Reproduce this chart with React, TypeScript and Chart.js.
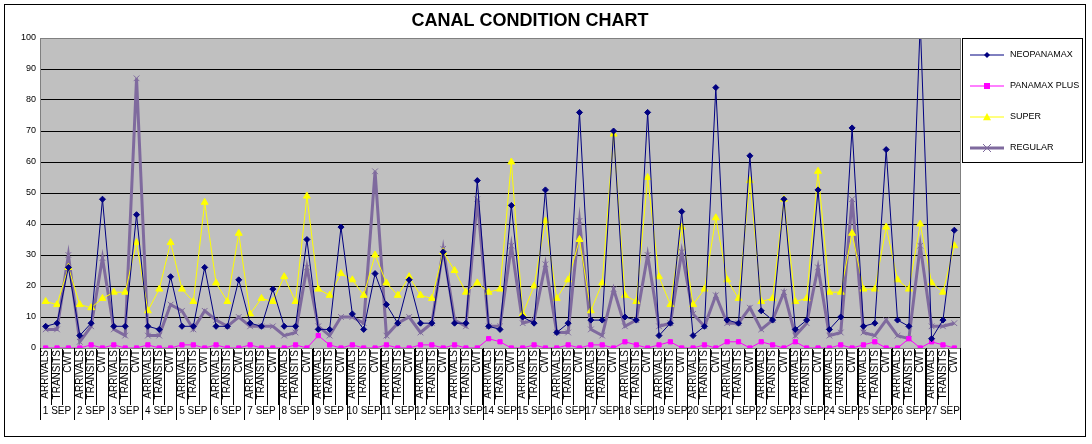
import React, { useEffect, useRef } from "react";
import { Chart, registerables } from "chart.js";
Chart.register(...registerables);

const days = ["1 SEP","2 SEP","3 SEP","4 SEP","5 SEP","6 SEP","7 SEP","8 SEP","9 SEP","10 SEP","11 SEP","12 SEP","13 SEP","14 SEP","15 SEP","16 SEP","17 SEP","18 SEP","19 SEP","20 SEP","21 SEP","22 SEP","23 SEP","24 SEP","25 SEP","26 SEP","27 SEP"];
const kinds = ["ARRIVALS","TRANSITS","CWT"];
const neopanamax = [7,8,26, 4,8,48, 7,7,43, 7,6,23, 7,7,26, 7,7,22, 8,7,19, 7,7,35, 6,6,39, 11,6,24, 14,8,22, 8,8,31, 8,8,54, 7,6,46, 10,8,51, 5,8,76, 9,9,70, 10,9,76, 4,8,44, 4,7,84, 9,8,62, 12,9,48, 6,9,51, 6,10,71, 7,8,64, 9,7,105, 3,9,38];
const panamaxPlus = [0,0,0, 0,1,0, 1,0,0, 1,0,0, 1,1,0, 1,0,0, 1,0,0, 0,1,0, 4,1,0, 1,0,0, 1,0,0, 1,1,0, 1,0,0, 3,2,0, 0,1,0, 0,1,0, 1,1,0, 2,1,0, 1,2,0, 0,1,0, 2,2,0, 2,1,0, 2,0,0, 0,1,0, 1,2,0, 0,3,0, 2,1,0];
const superS = [15,14,26, 14,13,16, 18,18,34, 12,19,34, 19,15,47, 21,15,37, 11,16,15, 23,15,49, 19,17,24, 22,17,30, 21,17,23, 17,16,31, 25,18,21, 18,19,60, 11,20,41, 16,22,35, 12,21,69, 17,15,55, 23,14,39, 14,19,42, 22,16,54, 15,16,48, 15,16,57, 18,18,37, 19,19,39, 22,19,40, 21,18,33];
const regular = [6,6,30, 2,7,29, 6,4,87, 4,4,14, 12,6,12, 9,7,10, 7,7,7, 4,5,26, 7,4,10, 10,8,57, 4,8,10, 5,8,32, 9,7,48, 7,7,33, 8,9,27, 5,5,41, 6,4,19, 7,9,30, 7,8,31, 11,7,17, 8,8,13, 6,9,18, 4,8,26, 4,5,48, 5,4,9, 4,3,33, 7,7,8];

const labels = days.flatMap(() => kinds);

const series = [
  { name: "NEOPANAMAX", data: neopanamax, color: "#000080", width: 1, style: "rectRot", r: 3 },
  { name: "PANAMAX PLUS", data: panamaxPlus, color: "#FF00FF", width: 1, style: "rect", r: 3 },
  { name: "SUPER", data: superS, color: "#FFFF00", width: 1, style: "triangle", r: 4 },
  { name: "REGULAR", data: regular, color: "#7F6A9E", width: 3, style: "crossRot", r: 4 },
];

function marker(ctx: CanvasRenderingContext2D, style: string, r: number, x: number, y: number) {
  ctx.beginPath();
  if (style === "rectRot") {
    ctx.moveTo(x, y - r); ctx.lineTo(x + r, y); ctx.lineTo(x, y + r); ctx.lineTo(x - r, y); ctx.closePath(); ctx.fill();
  } else if (style === "rect") {
    ctx.fillRect(x - r, y - r, 2 * r, 2 * r);
  } else if (style === "triangle") {
    ctx.moveTo(x, y - r); ctx.lineTo(x + r, y + r * 0.8); ctx.lineTo(x - r, y + r * 0.8); ctx.closePath(); ctx.fill();
  } else {
    ctx.lineWidth = 1;
    ctx.moveTo(x - r, y - r); ctx.lineTo(x + r, y + r); ctx.moveTo(x + r, y - r); ctx.lineTo(x - r, y + r); ctx.stroke();
  }
}

export default function App() {
  const ref = useRef<HTMLCanvasElement>(null);
  useEffect(() => {
    const deco = {
      id: "deco",
      beforeDraw(c: any) {
        const { ctx, chartArea: a } = c;
        ctx.save();
        ctx.fillStyle = "#fff";
        ctx.fillRect(0, 0, c.width, c.height);
        ctx.fillStyle = "#C0C0C0";
        ctx.fillRect(a.left, a.top, a.right - a.left, a.bottom - a.top);
        ctx.restore();
      },
      afterDraw(c: any) {
        const { ctx, chartArea: a } = c;
        ctx.save();
        ctx.strokeStyle = "#000";
        ctx.lineWidth = 1;
        ctx.strokeRect(4.5, 4.5, 1081, 432);
        ctx.strokeStyle = "#808080";
        ctx.strokeRect(a.left + 0.5, a.top + 0.5, a.right - a.left, a.bottom - a.top);
        ctx.fillStyle = "#000";
        ctx.font = "bold 18px Arial, 'Liberation Sans'";
        ctx.textAlign = "center";
        ctx.textBaseline = "middle";
        ctx.fillText("CANAL CONDITION CHART", 530, 21);
        const w = (a.right - a.left) / labels.length;
        ctx.font = "10px Arial, 'Liberation Sans'";
        ctx.strokeStyle = "#000";
        for (let d = 0; d < days.length; d++) {
          const x0 = a.left + d * 3 * w;
          ctx.fillText(days[d], x0 + 1.5 * w, 411);
          ctx.beginPath();
          ctx.moveTo(Math.round(x0) + 0.5, a.bottom);
          ctx.lineTo(Math.round(x0) + 0.5, 420);
          ctx.stroke();
        }
        ctx.beginPath();
        ctx.moveTo(Math.round(a.right) + 0.5, a.bottom);
        ctx.lineTo(Math.round(a.right) + 0.5, 420);
        ctx.stroke();
        ctx.strokeRect(962.5, 38.5, 120, 124);
        ctx.textAlign = "left";
        ctx.font = "9px Arial, 'Liberation Sans'";
        series.forEach((s, i) => {
          const y = 55 + i * 31;
          ctx.strokeStyle = s.color;
          ctx.fillStyle = s.color;
          ctx.lineWidth = s.width;
          ctx.beginPath();
          ctx.moveTo(970, y);
          ctx.lineTo(1004, y);
          ctx.stroke();
          marker(ctx, s.style, s.r, 987, y);
          ctx.fillStyle = "#000";
          ctx.fillText(s.name, 1010, y);
        });
        ctx.restore();
      },
    };
    const chart = new Chart(ref.current!, {
      type: "line",
      data: {
        labels,
        datasets: series.map((s) => ({
          label: s.name,
          data: s.data,
          borderColor: s.color,
          backgroundColor: s.color,
          borderWidth: s.width,
          pointStyle: s.style as any,
          pointRadius: s.r,
          pointBorderColor: s.color,
          pointBackgroundColor: s.color,
          pointBorderWidth: 1,
          tension: 0,
        })),
      },
      options: {
        animation: false,
        responsive: false,
        layout: { padding: { top: 38, left: 8, right: 132, bottom: 20 } },
        plugins: { legend: { display: false }, tooltip: { enabled: false } },
        scales: {
          x: {
            offset: true,
            grid: { offset: true, drawOnChartArea: false, tickLength: 57, color: "#000", drawTicks: true },
            border: { color: "#808080" },
            ticks: {
              autoSkip: false, minRotation: 90, maxRotation: 90, color: "#000", padding: -55,
              font: { family: "Arial, 'Liberation Sans'", size: 10 },
            },
            afterFit: (s: any) => { s.height = 76; },
          },
          y: {
            min: 0, max: 100,
            ticks: { stepSize: 10, color: "#000", font: { family: "Arial, 'Liberation Sans'", size: 9 }, padding: 4 },
            grid: { color: "#000", drawTicks: false },
            border: { display: false },
            afterFit: (s: any) => { s.width = 32; },
          },
        },
      },
      plugins: [deco],
    });
    return () => chart.destroy();
  }, []);
  return (
    <div style={{ position: "absolute", left: 0, top: 0, width: 1092, height: 444 }}>
      <canvas ref={ref} width={1092} height={444} style={{ width: 1092, height: 444, display: "block" }} />
    </div>
  );
}
